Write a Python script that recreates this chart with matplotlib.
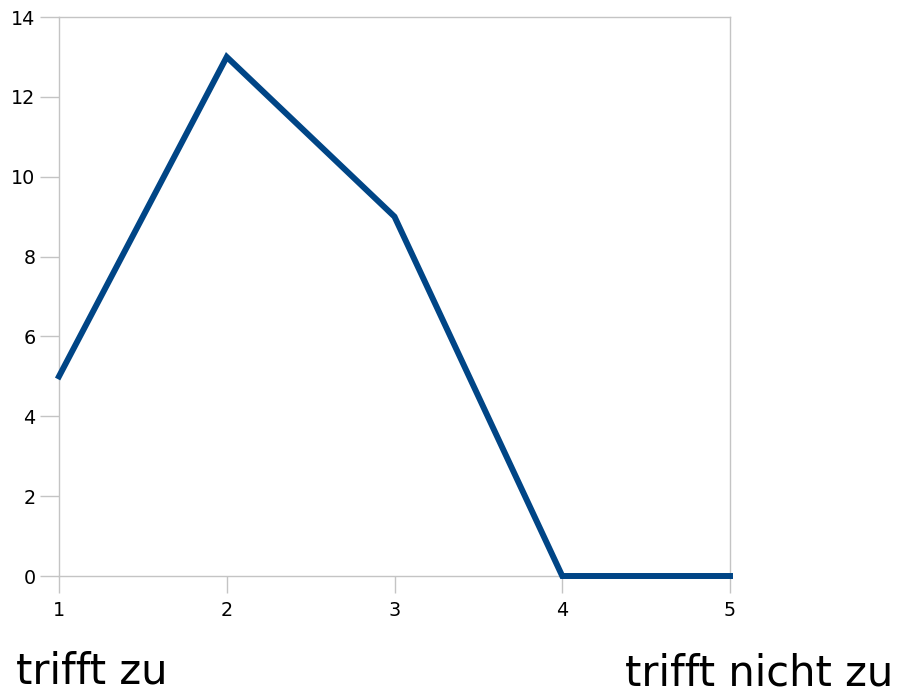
import numpy as np
import matplotlib.pyplot as plt

x_vals = [1, 2, 3, 4, 5]
counts = [5, 13, 9, 0, 0]
y_ticks = [0, 2, 4, 6, 8, 10, 12, 14]
left_label = "trifft zu"
right_label = "trifft nicht zu"

fig = plt.figure(figsize=(8.97, 6.94), dpi=100)
ax = fig.add_axes([59/897, 1-576/694, (730-59)/897, (576-17)/694])

ax.plot(x_vals, counts, color='#004586', lw=4.3, solid_joinstyle='miter', clip_on=False, zorder=3)

ax.set_xlim(1, 5)
ax.set_ylim(0, 14)
ax.set_xticks(x_vals)
ax.set_yticks(y_ticks)

for s in ax.spines.values():
    s.set_color('#c4c4c4')
    s.set_linewidth(1)

ax.tick_params(axis='both', colors='#c4c4c4', labelcolor='black', labelsize=13.8, width=1)
ax.tick_params(axis='y', length=14, pad=3)
ax.tick_params(axis='x', length=12, pad=6)

fig.text(16/897, 1-683/694, left_label, fontsize=30, ha='left', va='baseline')
fig.text(893/897, 1-685/694, right_label, fontsize=30, ha='right', va='baseline')

fig.savefig('out.png', dpi=100)
